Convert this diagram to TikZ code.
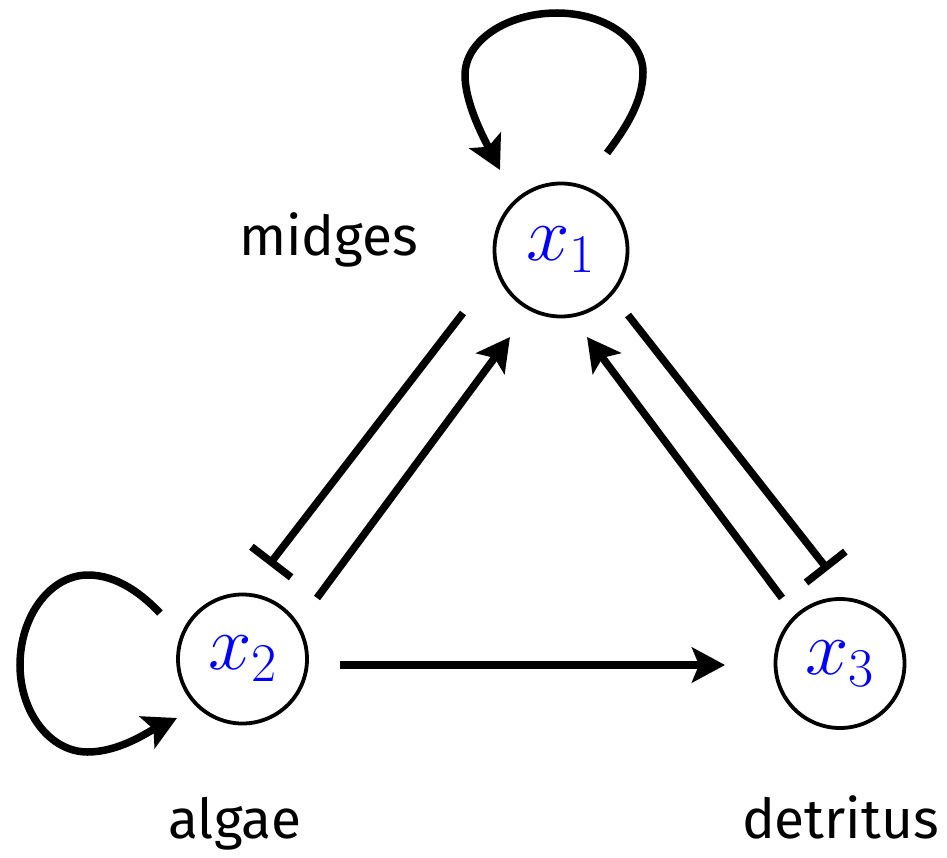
\RequirePackage{fix-cm}
\documentclass[tikz,border=0pt]{standalone}
\usepackage{fontspec}
\usetikzlibrary{arrows.meta,calc}
\newfontfamily\labelfont{Fira Sans}

\tikzset{
  species/.style={circle, draw, line width=3.8pt, inner sep=0pt,
    font=\fontsize{78}{80}\selectfont, text=blue},
  link/.style={line width=7.5pt},
  act/.style={link, -{Stealth[length=33pt,width=35pt,inset=7pt]}},
  inh/.style={link, -{Bar[width=50pt]}},
  tag/.style={font=\labelfont\fontsize{55}{60}\selectfont, anchor=base},
}

\begin{document}
\begin{tikzpicture}[x=1pt, y=-1pt]
  \fill[white, use as bounding box] (0,0) rectangle (947,858);

  % the three compartments
  \node[species, minimum size=133pt] (x1) at (561,250) {$x_1$};
  \node[species, minimum size=129pt] (x2) at (242.5,659) {$x_2$};
  \node[species, minimum size=129pt] (x3) at (840,663.5) {$x_3$};

  % names
  \node[tag] (midges)   at (328.5,256) {midges};
  \node[tag] (algae)    at (235,838)   {algae};
  \node[tag] (detritus) at (840.5,838) {detritus};

  % interactions between compartments
  \draw[inh] ($(x1)+(-98,63)$)   -- ($(x2)+(26.5,-94)$);
  \draw[act] ($(x2)+(74.5,-61)$) -- ($(x1)+(-51,87)$);
  \draw[inh] ($(x1)+(67,65)$)    -- ($(x3)+(-12,-93.5)$);
  \draw[act] ($(x3)+(-58,-65.5)$) -- ($(x1)+(26,87)$);
  \draw[act] ($(x2)+(97.5,6)$)   -- ($(x3)+(-115,1.5)$);

  % self-loops
  \begin{scope}[shift={(x1)}]
    \draw[act] (46,-97)  .. controls (64,-121)   and (82,-148)    .. (82,-178)
                         .. controls (82,-210.5) and (43.3,-237)  .. (-4,-237)
                         .. controls (-54.6,-237) and (-96,-209)  .. (-96,-175)
                         .. controls (-96,-145)  and (-74.5,-106.7) .. (-61,-80);
  \end{scope}
  \begin{scope}[shift={(x2)}]
    \draw[act] (-82.5,-46) .. controls (-99.8,-64)  and (-124.5,-84) .. (-154.5,-84)
                           .. controls (-191.9,-84) and (-222.5,-43.5) .. (-222.5,6)
                           .. controls (-222.5,53.9) and (-192.1,93) .. (-155,93)
                           .. controls (-123,93)    and (-94.3,72.8) .. (-65.5,59);
  \end{scope}
\end{tikzpicture}
\end{document}
